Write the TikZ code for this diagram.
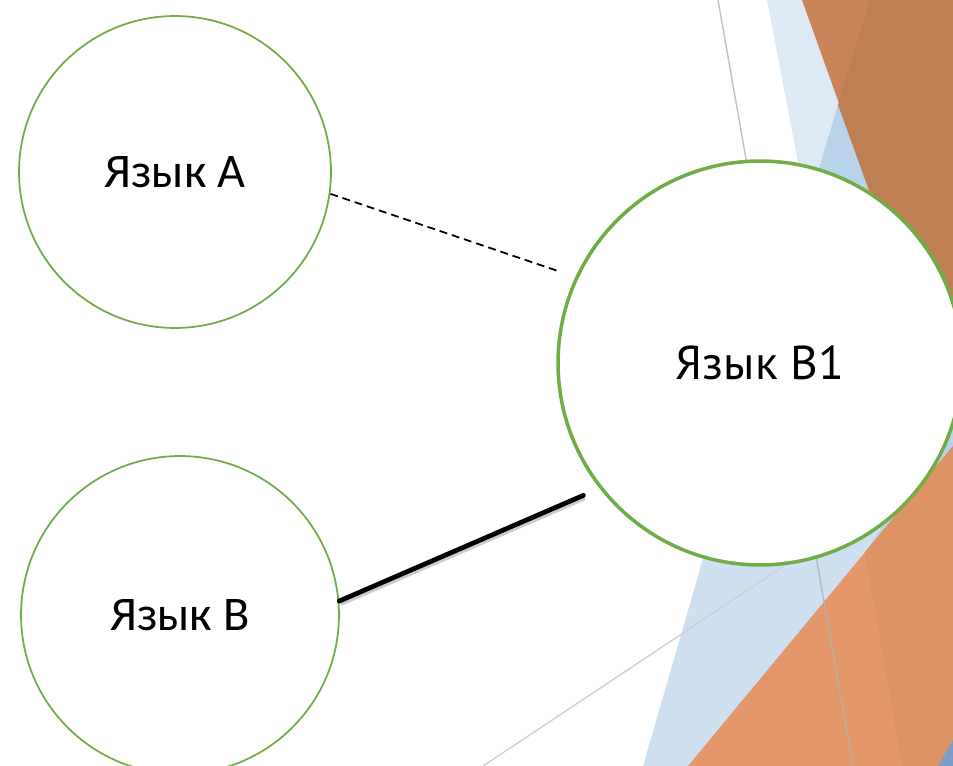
\documentclass[tikz,border=0pt]{standalone}
\usepackage{fontspec}
\newfontfamily\calib{Carlito}
\newfontfamily\ptsans{PT Sans}
\definecolor{lgreen}{HTML}{70AD47}
\definecolor{lblue}{HTML}{DDE9F5}
\definecolor{sblue}{HTML}{CFE0F1}
\definecolor{mblue}{HTML}{B8D3EA}
\definecolor{dblue}{HTML}{7A9CC6}
\definecolor{torange}{HTML}{C98458}
\definecolor{tbrown}{HTML}{BE7F54}
\definecolor{borange}{HTML}{E3976A}
\definecolor{dorange}{HTML}{DC9464}
\tikzset{
  lang/.style={circle, draw=lgreen, fill=white, inner sep=0pt, line width=1pt},
  shadowline/.style={preaction={draw=black!20, line width=3pt, transform canvas={shift={(0.7pt,-1.3pt)}}}}
}

\begin{document}
\begin{tikzpicture}[x=0.02cm, y=-0.02cm]
  \useasboundingbox (0,0) rectangle (953,766);
  % background facets
  \fill[sblue] (643,766)--(720,500)--(953,300)--(953,766)--cycle;
  \fill[lblue] (767,0)--(953,0)--(953,300)--(830,330)--cycle;
  \fill[torange] (802,0)--(953,0)--(953,422)--cycle;
  \fill[mblue] (838,105)--(805,215)--(881,220)--cycle;
  \fill[tbrown] (870,0)--(953,0)--(953,422)--(838,105)--cycle;
  \fill[mblue] (866,551)--(953,420)--(953,446)--cycle;
  \fill[borange] (688,766)--(953,446)--(953,766)--cycle;
  \fill[dorange] (865,552)--(953,446)--(953,766)--(902,766)--cycle;
  \fill[dblue] (938,766)--(953,740)--(953,766)--cycle;
  \draw[black!30, opacity=0.8, line width=0.8pt] (718,0)--(853,766);
  \draw[black!18, line width=0.8pt] (483,766)--(790,562);
  %
  \node[lang, minimum size=6.24cm] (A) at (175,172) {\calib\fontsize{27.5}{30}\selectfont\raisebox{-5pt}{Язык A}};
  \node[lang, minimum size=6.36cm] (B) at (180,615) {\calib\fontsize{27.5}{30}\selectfont Язык B};
  \node[lang, minimum size=8.08cm, line width=2pt] (B1) at (760,363) {\ptsans\fontsize{27}{30}\selectfont Язык B1};
  %
  \draw[dashed, dash pattern=on 4.5pt off 2.8pt, line width=1pt, shorten >=0.34cm] (A.-8) -- (B1.155);
  \draw[shadowline, line width=2.7pt, line cap=round, shorten >=0.35cm] (B.5) -- (B1.-142);
\end{tikzpicture}
\end{document}
